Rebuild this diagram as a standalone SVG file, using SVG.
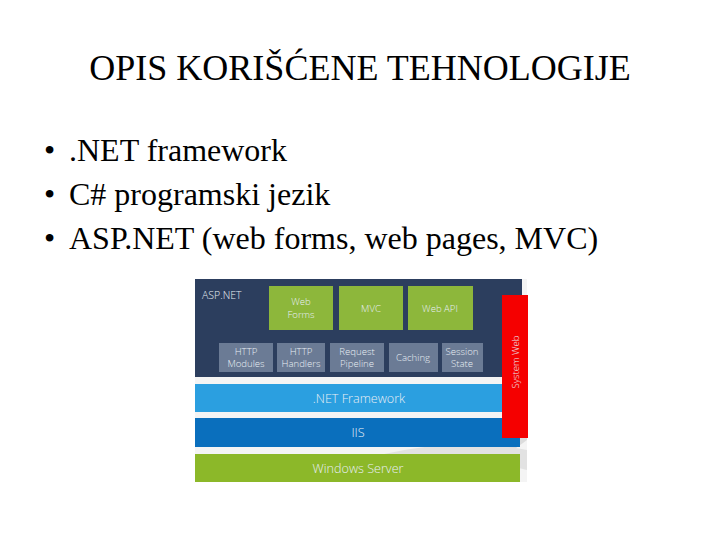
<svg xmlns="http://www.w3.org/2000/svg" width="720" height="540" viewBox="0 0 720 540">
<style>
.t{font-family:'Liberation Serif','Times New Roman',serif;fill:#000}
.lbl{font-family:'Open Sans','Noto Sans','DejaVu Sans',sans-serif;font-weight:300;fill:#e8eef4;text-anchor:middle}
.s{font-size:9.6px}
.b{font-size:12.6px}
.green{fill:#8db73b}
.grey{fill:#6b7b95}
</style>
<rect width="720" height="540" fill="#fff"/>
<text class="t" x="360" y="80" font-size="36" text-anchor="middle">OPIS KORIŠĆENE TEHNOLOGIJE</text>
<g class="t" font-size="32">
<text x="44" y="161">•</text><text x="69" y="161">.NET framework</text>
<text x="44" y="205">•</text><text x="69" y="205">C# programski jezik</text>
<text x="44" y="249">•</text><text x="69" y="249">ASP.NET (web forms, web pages, MVC)</text>
</g>
<g id="background">
<rect x="195" y="279" width="332" height="203" fill="#f4f4f4"/>
<path d="M420 482 L527 400 L527 440 L470 482 Z" fill="#dcdcdc"/>
<path d="M300 482 Q420 430 527 450 L527 470 Q430 445 340 482 Z" fill="#e2e2e2"/>
</g>
<g id="aspnet">
<rect x="195" y="279" width="327" height="98" fill="#2c3e5e"/>
<text x="202" y="299" font-family="Open Sans, Noto Sans, sans-serif" font-weight="300" font-size="10.5" fill="#e8eef4">ASP.NET</text>
</g>
<g id="webforms"><rect class="green" x="269" y="286" width="64" height="44"/><text class="lbl s" x="301" y="305">Web</text><text class="lbl s" x="301" y="318">Forms</text></g>
<g id="mvc"><rect class="green" x="339" y="286" width="64" height="44"/><text class="lbl s" x="371" y="312">MVC</text></g>
<g id="webapi"><rect class="green" x="408" y="286" width="65" height="44"/><text class="lbl s" x="440" y="312">Web API</text></g>
<g id="httpmodules"><rect class="grey" x="219" y="343" width="54" height="29"/><text class="lbl s" x="246" y="355">HTTP</text><text class="lbl s" x="246" y="367">Modules</text></g>
<g id="httphandlers"><rect class="grey" x="277" y="343" width="48" height="29"/><text class="lbl s" x="301" y="355">HTTP</text><text class="lbl s" x="301" y="367">Handlers</text></g>
<g id="requestpipeline"><rect class="grey" x="330" y="343" width="54" height="29"/><text class="lbl s" x="357" y="355">Request</text><text class="lbl s" x="357" y="367">Pipeline</text></g>
<g id="caching"><rect class="grey" x="389" y="343" width="49" height="29"/><text class="lbl s" x="413" y="361">Caching</text></g>
<g id="sessionstate"><rect class="grey" x="442" y="343" width="41" height="29"/><text class="lbl s" x="462" y="355">Session</text><text class="lbl s" x="462" y="367">State</text></g>
<g id="netframework"><rect x="195" y="384" width="310" height="28" fill="#2b9fe0"/><text class="lbl b" x="359" y="403">.NET Framework</text></g>
<g id="iis"><rect x="195" y="418" width="325" height="29" fill="#0a6fbd"/><text class="lbl b" x="358" y="437">IIS</text></g>
<g id="windowsserver"><rect x="195" y="454" width="325" height="28" fill="#8cb829"/><text class="lbl b" x="358" y="473">Windows Server</text></g>
<g id="systemweb"><rect x="502" y="295" width="26" height="143" fill="#f50000"/><text class="lbl s" transform="translate(519 362) rotate(-90)" fill="#ffd8d8">System Web</text></g>
</svg>
